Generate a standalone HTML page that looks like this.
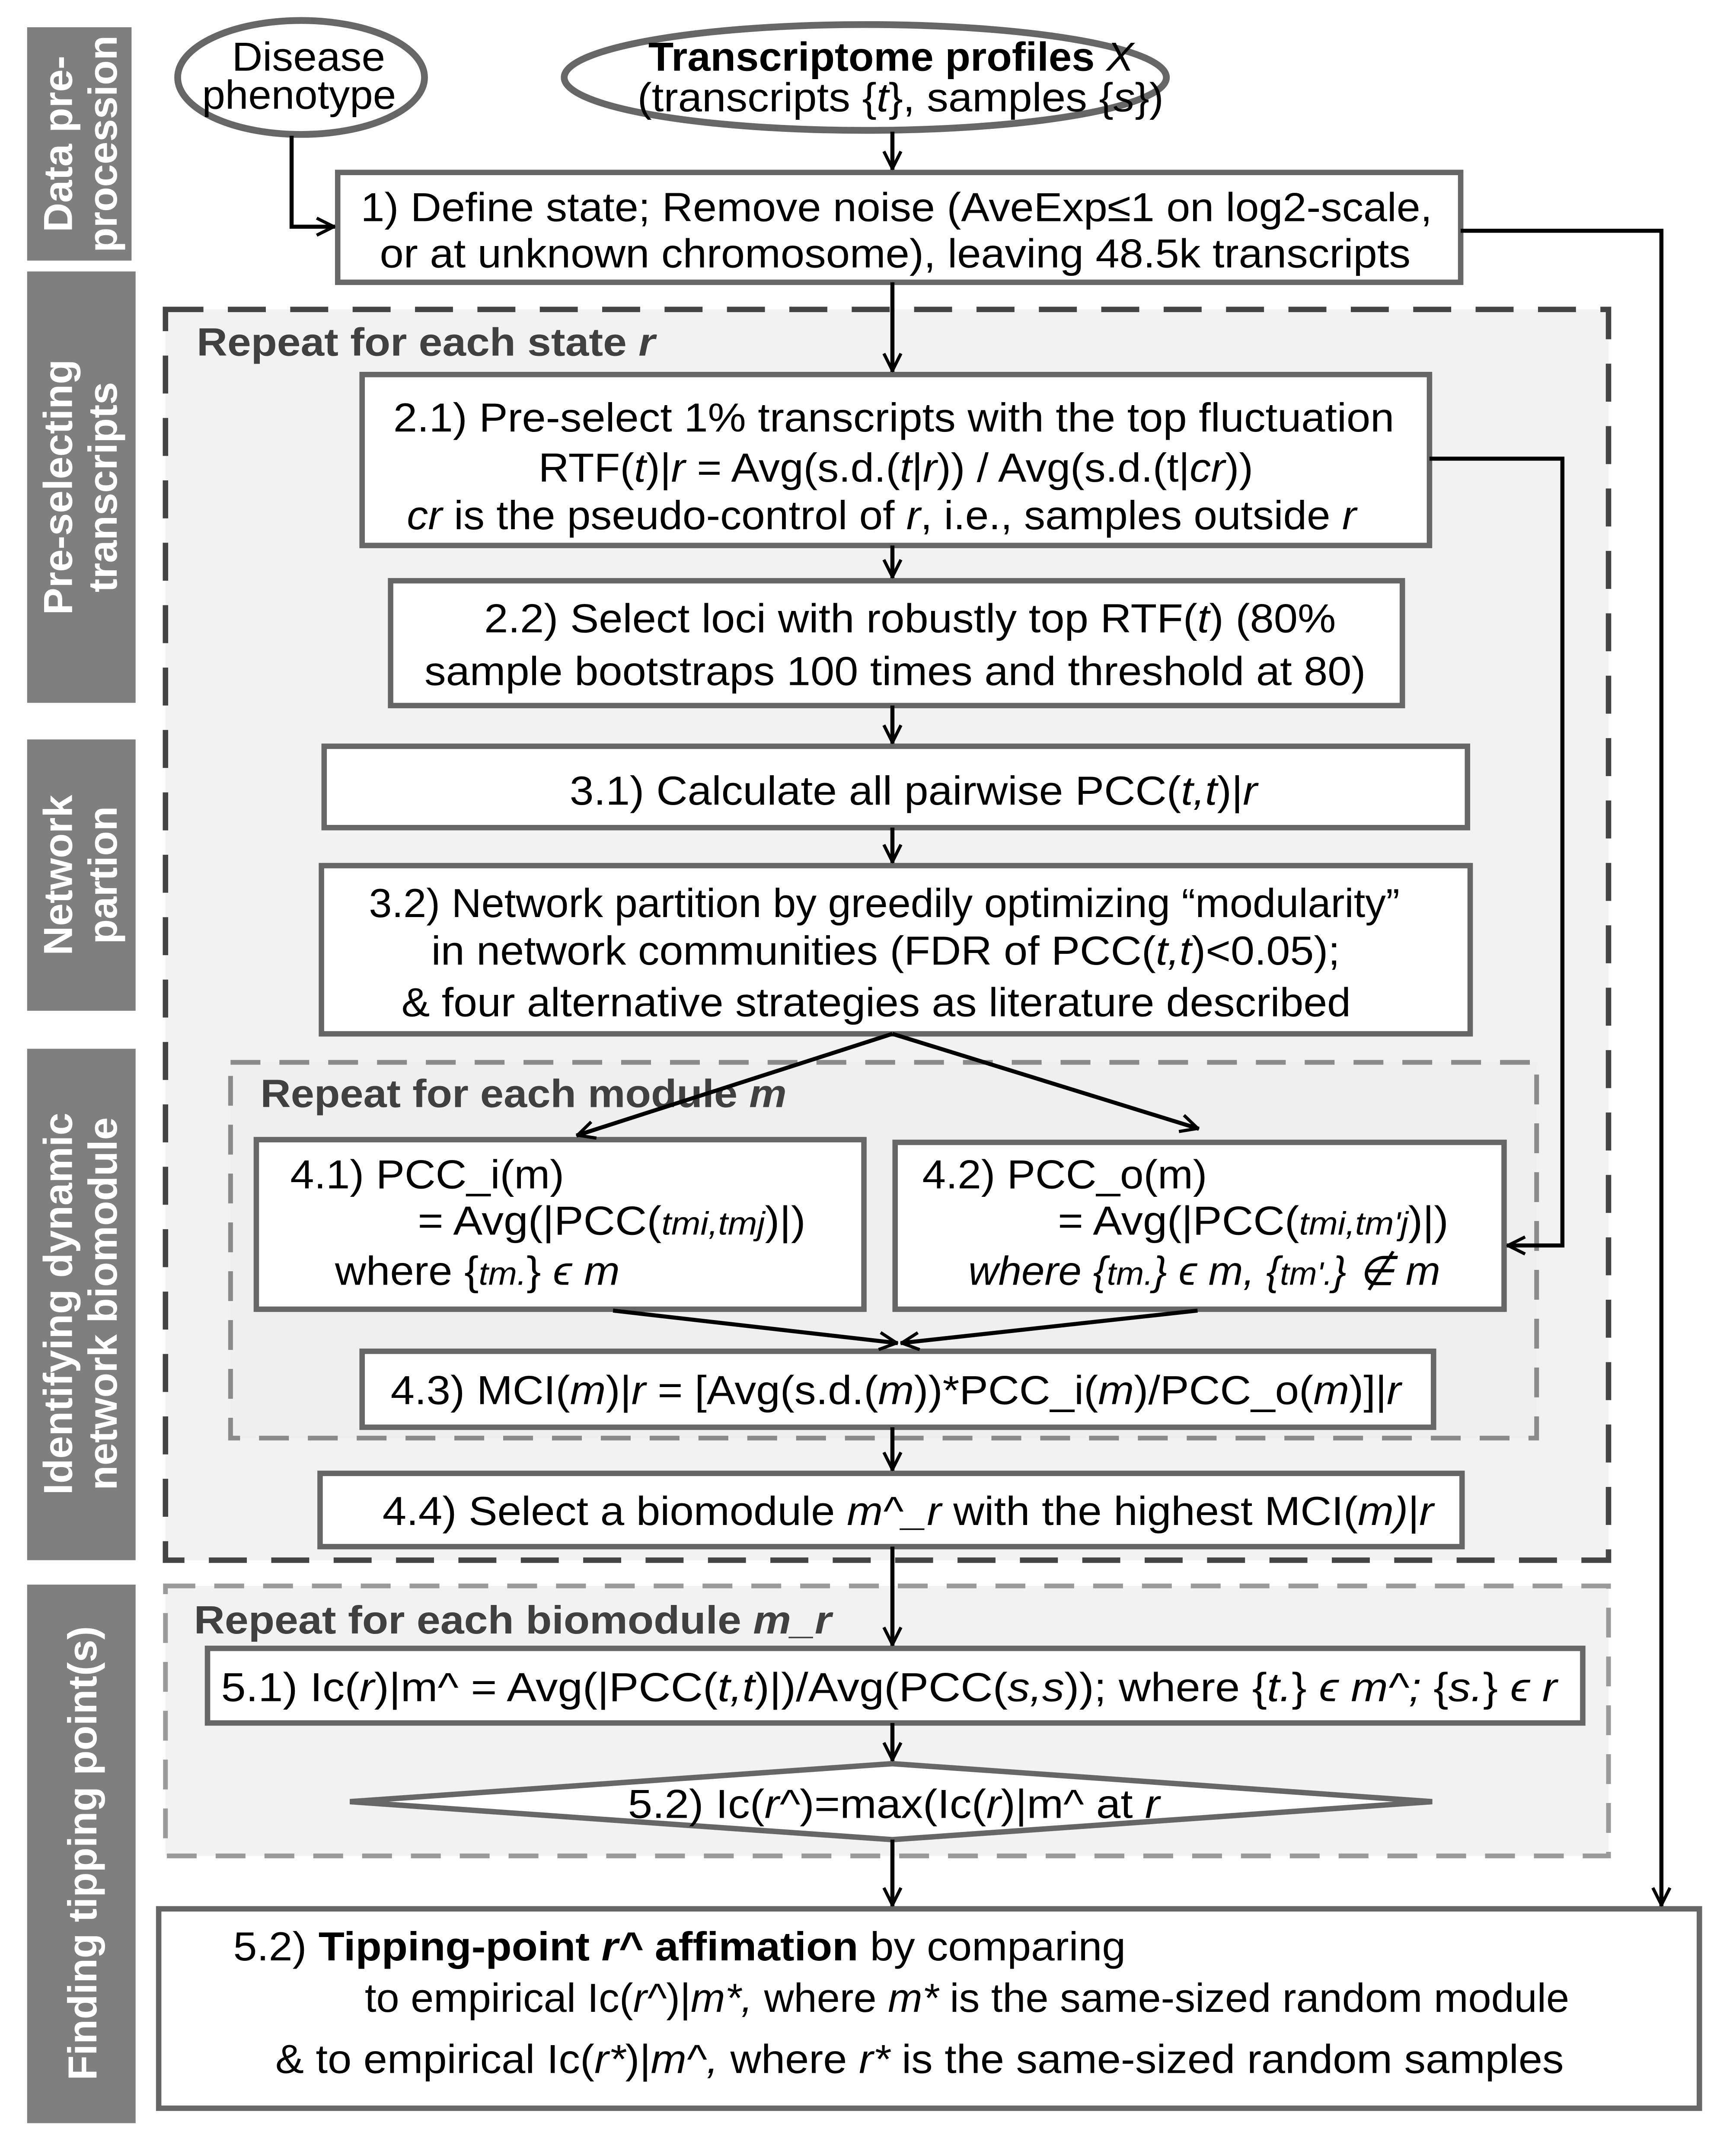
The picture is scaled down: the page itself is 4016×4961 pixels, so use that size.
<!DOCTYPE html>
<html><head><meta charset="utf-8">
<style>
html,body{margin:0;padding:0;background:#fff;}
svg{display:block;}
text{font-family:"Liberation Sans",sans-serif;}
</style></head>
<body>
<svg xmlns="http://www.w3.org/2000/svg" width="4016" height="4961" viewBox="0 0 1280 1581">
<defs>
<marker id="a2" viewBox="0 0 20 20" refX="19" refY="10" markerWidth="18" markerHeight="18" orient="auto" markerUnits="userSpaceOnUse">
<path d="M4,3 L18,10 L4,17" fill="none" stroke="#000" stroke-width="2.6" stroke-linejoin="round"/>
</marker>
</defs>
<rect width="1280" height="1581" fill="#fff"/>

<g fill="#7f7f7f">
<rect x="20" y="20" width="77" height="172"/>
<rect x="20" y="200" width="80" height="318"/>
<rect x="20" y="545" width="80" height="200"/>
<rect x="20" y="773" width="80" height="377"/>
<rect x="20" y="1168" width="80" height="397"/>
</g>
<g fill="#fff" font-weight="bold" font-size="30" text-anchor="middle">
<text transform="translate(53,106) rotate(-90)">Data pre-</text>
<text transform="translate(86,106) rotate(-90)">procession</text>
<text transform="translate(53,359) rotate(-90)">Pre-selecting</text>
<text transform="translate(86,359) rotate(-90)">transcripts</text>
<text transform="translate(53,645) rotate(-90)">Network</text>
<text transform="translate(86,645) rotate(-90)">partion</text>
<text transform="translate(53,961) rotate(-90)">Identifying dynamic</text>
<text transform="translate(86,961) rotate(-90)">network biomodule</text>
<text transform="translate(71,1366) rotate(-90)">Finding tipping point(s)</text>
</g>

<rect x="122" y="228" width="1064" height="922" fill="#f2f2f2" stroke="#444" stroke-width="4" stroke-dasharray="28,18"/>
<rect x="170" y="783" width="963" height="277" fill="#efefef" stroke="#8a8a8a" stroke-width="3.5" stroke-dasharray="22,14"/>
<rect x="122" y="1169" width="1064" height="199" fill="#f2f2f2" stroke="#9a9a9a" stroke-width="3.5" stroke-dasharray="22,14"/>

<g font-weight="bold" font-size="29" fill="#404040">
<text x="145" y="262" textLength="338" lengthAdjust="spacingAndGlyphs">Repeat for each state <tspan font-style="italic">r</tspan></text>
<text x="192" y="816" textLength="388" lengthAdjust="spacingAndGlyphs">Repeat for each module <tspan font-style="italic">m</tspan></text>
<text x="143" y="1204" textLength="470" lengthAdjust="spacingAndGlyphs">Repeat for each biomodule <tspan font-style="italic">m_r</tspan></text>
</g>

<ellipse cx="222" cy="57" rx="91" ry="42" fill="#fff" stroke="#666" stroke-width="5"/>
<ellipse cx="638" cy="57" rx="222" ry="39" fill="#fff" stroke="#666" stroke-width="5"/>
<g font-size="30">
<text x="171" y="52" textLength="113" lengthAdjust="spacingAndGlyphs">Disease</text>
<text x="149" y="80" textLength="143" lengthAdjust="spacingAndGlyphs">phenotype</text>
<text x="478" y="52" textLength="358" lengthAdjust="spacingAndGlyphs"><tspan font-weight="bold">Transcriptome profiles</tspan> <tspan font-style="italic">X</tspan></text>
<text x="470" y="82" textLength="388" lengthAdjust="spacingAndGlyphs">(transcripts {<tspan font-style="italic">t</tspan>}, samples {<tspan font-style="italic">s</tspan>})</text>
</g>

<g fill="#fff" stroke="#666" stroke-width="4">
<rect x="249" y="127" width="828" height="81"/>
<rect x="267" y="276" width="787" height="126"/>
<rect x="288" y="428" width="746" height="92"/>
<rect x="239" y="550" width="843" height="60"/>
<rect x="237" y="638" width="847" height="124"/>
<rect x="189" y="840" width="448" height="125"/>
<rect x="660" y="842" width="449" height="123"/>
<rect x="267" y="996" width="790" height="56"/>
<rect x="236" y="1086" width="842" height="54"/>
<rect x="153" y="1215" width="1014" height="55"/>
<polygon points="258,1328 658,1300 1056,1328 658,1356"/>
<rect x="117" y="1407" width="1136" height="147"/>
</g>

<g fill="none" stroke="#000" stroke-width="3">
<path d="M215,100 V167 H247" marker-end="url(#a2)"/>
<path d="M1077,170 H1225 V1405" marker-end="url(#a2)"/>
<path d="M658,97 V125" marker-end="url(#a2)"/>
<path d="M658,208 V274" marker-end="url(#a2)"/>
<path d="M658,402 V426" marker-end="url(#a2)"/>
<path d="M658,520 V548" marker-end="url(#a2)"/>
<path d="M658,610 V636" marker-end="url(#a2)"/>
<path d="M658,762 L425,837" marker-end="url(#a2)"/>
<path d="M658,762 L884,832" marker-end="url(#a2)"/>
<path d="M1054,338 H1152 V918 H1111" marker-end="url(#a2)"/>
<path d="M452,966 L662,990" marker-end="url(#a2)"/>
<path d="M883,966 L664,990" marker-end="url(#a2)"/>
<path d="M658,1052 V1084" marker-end="url(#a2)"/>
<path d="M658,1140 V1213" marker-end="url(#a2)"/>
<path d="M658,1270 V1298" marker-end="url(#a2)"/>
<path d="M658,1356 V1405" marker-end="url(#a2)"/>
</g>

<g font-size="30" fill="#000">
<text x="266" y="163" textLength="790" lengthAdjust="spacingAndGlyphs">1) Define state; Remove noise (AveExp≤1 on log2-scale,</text>
<text x="280" y="197" textLength="760" lengthAdjust="spacingAndGlyphs">or at unknown chromosome), leaving 48.5k transcripts</text>

<text x="290" y="318" textLength="738" lengthAdjust="spacingAndGlyphs">2.1) Pre-select 1% transcripts with the top fluctuation</text>
<text x="397" y="355" textLength="527" lengthAdjust="spacingAndGlyphs">RTF(<tspan font-style="italic">t</tspan>)|<tspan font-style="italic">r</tspan> = Avg(s.d.(<tspan font-style="italic">t</tspan>|<tspan font-style="italic">r</tspan>)) / Avg(s.d.(t|<tspan font-style="italic">cr</tspan>))</text>
<text x="300" y="390" textLength="700" lengthAdjust="spacingAndGlyphs"><tspan font-style="italic">cr</tspan> is the pseudo-control of <tspan font-style="italic">r</tspan>, i.e., samples outside <tspan font-style="italic">r</tspan></text>

<text x="357" y="466" textLength="628" lengthAdjust="spacingAndGlyphs">2.2) Select loci with robustly top RTF(<tspan font-style="italic">t</tspan>) (80%</text>
<text x="313" y="505" textLength="694" lengthAdjust="spacingAndGlyphs">sample bootstraps 100 times and threshold at 80)</text>

<text x="420" y="593" textLength="507" lengthAdjust="spacingAndGlyphs">3.1) Calculate all pairwise PCC(<tspan font-style="italic">t,t</tspan>)|<tspan font-style="italic">r</tspan></text>

<text x="272" y="676" textLength="760" lengthAdjust="spacingAndGlyphs">3.2) Network partition by greedily optimizing “modularity”</text>
<text x="318" y="711" textLength="670" lengthAdjust="spacingAndGlyphs">in network communities (FDR of PCC(<tspan font-style="italic">t,t</tspan>)&lt;0.05);</text>
<text x="296" y="749" textLength="700" lengthAdjust="spacingAndGlyphs">&amp; four alternative strategies as literature described</text>

<text x="214" y="876" textLength="202" lengthAdjust="spacingAndGlyphs">4.1) PCC_i(m)</text>
<text x="308" y="910" textLength="286" lengthAdjust="spacingAndGlyphs">= Avg(|PCC(<tspan font-style="italic" font-size="24">tmi,tmj</tspan>)|)</text>
<text x="247" y="947" textLength="210" lengthAdjust="spacingAndGlyphs">where {<tspan font-style="italic" font-size="24">tm.</tspan>} <tspan font-style="italic">ϵ m</tspan></text>

<text x="680" y="876" textLength="210" lengthAdjust="spacingAndGlyphs">4.2) PCC_o(m)</text>
<text x="780" y="910" textLength="288" lengthAdjust="spacingAndGlyphs">= Avg(|PCC(<tspan font-style="italic" font-size="24">tmi,tm'j</tspan>)|)</text>
<text x="714" y="947" font-style="italic" textLength="348" lengthAdjust="spacingAndGlyphs">where {<tspan font-size="24">tm.</tspan>} ϵ m, {<tspan font-size="24">tm'.</tspan>} ∉ m</text>

<text x="288" y="1035" textLength="745" lengthAdjust="spacingAndGlyphs">4.3) MCI(<tspan font-style="italic">m</tspan>)|<tspan font-style="italic">r</tspan> = [Avg(s.d.(<tspan font-style="italic">m</tspan>))*PCC_i(<tspan font-style="italic">m</tspan>)/PCC_o(<tspan font-style="italic">m</tspan>)]|<tspan font-style="italic">r</tspan></text>

<text x="282" y="1124" textLength="775" lengthAdjust="spacingAndGlyphs">4.4) Select a biomodule <tspan font-style="italic">m^_r</tspan> with the highest MCI(<tspan font-style="italic">m)</tspan>|<tspan font-style="italic">r</tspan></text>

<text x="163" y="1254" textLength="985" lengthAdjust="spacingAndGlyphs">5.1) Ic(<tspan font-style="italic">r</tspan>)|m^ = Avg(|PCC(<tspan font-style="italic">t,t</tspan>)|)/Avg(PCC(<tspan font-style="italic">s,s</tspan>)); where {<tspan font-style="italic">t.</tspan>} <tspan font-style="italic">ϵ m^;  </tspan>{<tspan font-style="italic">s.</tspan>} <tspan font-style="italic">ϵ r</tspan></text>

<text x="463" y="1340" textLength="392" lengthAdjust="spacingAndGlyphs">5.2) Ic(<tspan font-style="italic">r^</tspan>)=max(Ic(<tspan font-style="italic">r</tspan>)|m^ at <tspan font-style="italic">r</tspan></text>

<text x="172" y="1445" textLength="658" lengthAdjust="spacingAndGlyphs">5.2) <tspan font-weight="bold">Tipping-point <tspan font-style="italic">r^</tspan> affimation</tspan> by comparing</text>
<text x="269" y="1483" textLength="888" lengthAdjust="spacingAndGlyphs">to empirical Ic(<tspan font-style="italic">r^</tspan>)|<tspan font-style="italic">m*,</tspan> where <tspan font-style="italic">m*</tspan> is the same-sized random module</text>
<text x="203" y="1528" textLength="950" lengthAdjust="spacingAndGlyphs">&amp; to empirical Ic(<tspan font-style="italic">r*</tspan>)|<tspan font-style="italic">m^,</tspan> where <tspan font-style="italic">r*</tspan> is the same-sized random samples</text>
</g>
</svg>
</body></html>
